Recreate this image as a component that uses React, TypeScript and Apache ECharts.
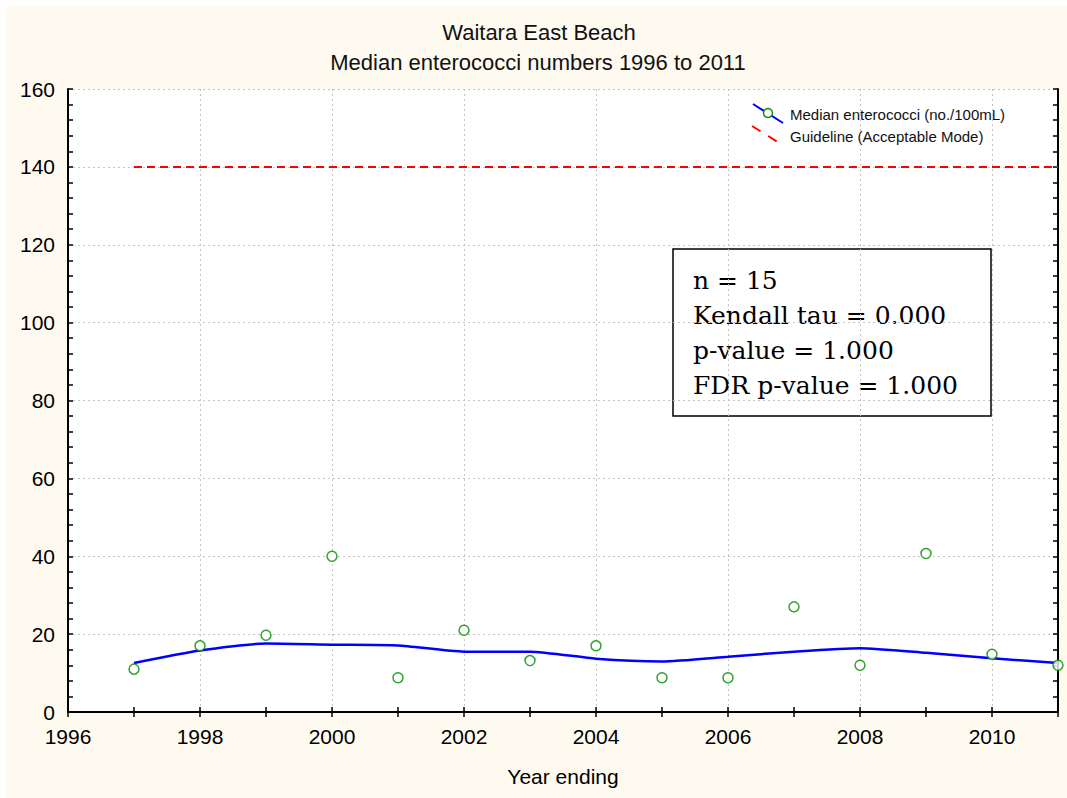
import { useEffect, useRef } from 'react'
import * as echarts from 'echarts'

const years = [1997, 1998, 1999, 2000, 2001, 2002, 2003, 2004, 2005, 2006, 2007, 2008, 2009, 2010, 2011]
const medians = [11, 17, 19.7, 40, 8.8, 21, 13.2, 17, 8.8, 8.8, 27, 12, 40.7, 14.8, 12]
const trend = [12.6, 15.8, 17.6, 17.3, 17.1, 15.5, 15.5, 13.7, 13.0, 14.2, 15.5, 16.4, 15.2, 13.8, 12.6]
const guideYears = [1997, 2011]
const guideline = 140
const statLines = ['n = 15', 'Kendall tau = 0.000', 'p-value = 1.000', 'FDR p-value = 1.000']

const SANS = '"Liberation Sans", Arial, sans-serif'
const SERIF = '"DejaVu Serif", serif'

export default function App() {
  const rootRef = useRef<HTMLDivElement | null>(null)
  useEffect(() => {
    document.body.style.margin = '0'
    if (!rootRef.current) return
    const chart = echarts.init(rootRef.current, null, { renderer: 'svg' })

    const frameAxis = { lineStyle: { color: '#000', width: 2 } }
    const tick = { inside: true, length: 5, lineStyle: { color: '#000', width: 1.5 } }

    chart.setOption({
      animation: false,
      backgroundColor: '#fefaf0',
      grid: { left: 68, right: 9, top: 89, bottom: 86, show: true, backgroundColor: '#ffffff', borderWidth: 0 },
      xAxis: [
        {
          type: 'value', min: 1996, max: 2011, interval: 1,
          axisLine: frameAxis, axisTick: tick,
          axisLabel: {
            color: '#000', fontFamily: SANS, fontSize: 21, margin: 14,
            formatter: (v: number) => (v % 2 === 0 ? String(v) : ''),
          },
          splitLine: { show: true, lineStyle: { color: ['#c4c4c4', 'rgba(0,0,0,0)'], type: [2, 3], width: 1 } },
          name: 'Year ending', nameLocation: 'middle', nameGap: 54,
          nameTextStyle: { color: '#000', fontFamily: SANS, fontSize: 21 },
        },
        {
          type: 'value', position: 'top', min: 1996, max: 2011, interval: 1,
          axisLine: frameAxis, axisTick: tick, axisLabel: { show: false }, splitLine: { show: false },
        },
      ],
      yAxis: [
        {
          type: 'value', min: 0, max: 160, interval: 20,
          axisLine: { show: true, ...frameAxis }, axisTick: { show: true, ...tick },
          minorTick: { show: true, splitNumber: 5, length: 5, lineStyle: { color: '#000', width: 1.5 } },
          axisLabel: { color: '#000', fontFamily: SANS, fontSize: 21, margin: 13 },
          splitLine: { show: true, lineStyle: { color: '#c4c4c4', type: [2, 3], width: 1 } },
        },
        {
          type: 'value', position: 'right', min: 0, max: 160, interval: 20, alignTicks: false,
          axisLine: { show: true, ...frameAxis }, axisTick: { show: true, ...tick },
          minorTick: { show: true, splitNumber: 5, length: 5, lineStyle: { color: '#000', width: 1.5 } },
          axisLabel: { show: false }, splitLine: { show: false },
        },
      ],
      series: [
        {
          name: 'Guideline (Acceptable Mode)', type: 'line', xAxisIndex: 0, yAxisIndex: 0,
          data: guideYears.map((y) => [y, guideline]), showSymbol: false,
          lineStyle: { color: '#ff0000', width: 2, type: [8, 5] },
        },
        {
          name: 'Median enterococci (no./100mL)', type: 'line', xAxisIndex: 0, yAxisIndex: 0,
          data: years.map((y, i) => [y, trend[i]]), showSymbol: false, smooth: 0.2,
          lineStyle: { color: '#0000ff', width: 2.5 },
        },
        {
          name: 'Median', type: 'scatter', xAxisIndex: 0, yAxisIndex: 0, z: 5,
          data: years.map((y, i) => [y, medians[i]]), symbol: 'circle', symbolSize: 10,
          itemStyle: { color: '#ffffff', borderColor: '#008a00', borderWidth: 1.5 },
        },
      ],
      graphic: [
        { type: 'rect', shape: { x: 0, y: 0, width: 1067, height: 6 }, style: { fill: '#ffffff' }, silent: true },
        { type: 'rect', shape: { x: 0, y: 0, width: 6, height: 798 }, style: { fill: '#ffffff' }, silent: true },
        { type: 'text', x: 539, y: 32, style: { text: 'Waitara East Beach', fill: '#111', font: `22px ${SANS}`, textAlign: 'center', textVerticalAlign: 'middle' } },
        { type: 'text', x: 538, y: 62, style: { text: 'Median enterococci numbers 1996 to 2011', fill: '#111', font: `22px ${SANS}`, textAlign: 'center', textVerticalAlign: 'middle' } },
        // legend
        { type: 'line', shape: { x1: 753, y1: 104, x2: 783, y2: 123 }, style: { stroke: '#0000ff', lineWidth: 2 } },
        { type: 'circle', shape: { cx: 768, cy: 113, r: 4.5 }, style: { fill: '#ffffff', stroke: '#008a00', lineWidth: 1.4 } },
        { type: 'line', shape: { x1: 752, y1: 126, x2: 781, y2: 144 }, style: { stroke: '#ff0000', lineWidth: 2, lineDash: [10, 9] } },
        { type: 'text', x: 790, y: 114, style: { text: 'Median enterococci (no./100mL)', fill: '#111', font: `15px ${SANS}`, textVerticalAlign: 'middle' } },
        { type: 'text', x: 790, y: 136, style: { text: 'Guideline (Acceptable Mode)', fill: '#111', font: `15px ${SANS}`, textVerticalAlign: 'middle' } },
        // stats box
        { type: 'rect', shape: { x: 673, y: 249, width: 318, height: 167 }, style: { fill: '#ffffff', stroke: '#000', lineWidth: 1.5 } },
        ...statLines.map((t, i) => ({
          type: 'text', x: 693, y: 280 + i * 35.3,
          style: { text: t, fill: '#000', font: `25px ${SERIF}`, textVerticalAlign: 'middle' },
        })),
      ],
    })
    return () => chart.dispose()
  }, [])

  return <div ref={rootRef} style={{ width: 1067, height: 798 }} />
}
